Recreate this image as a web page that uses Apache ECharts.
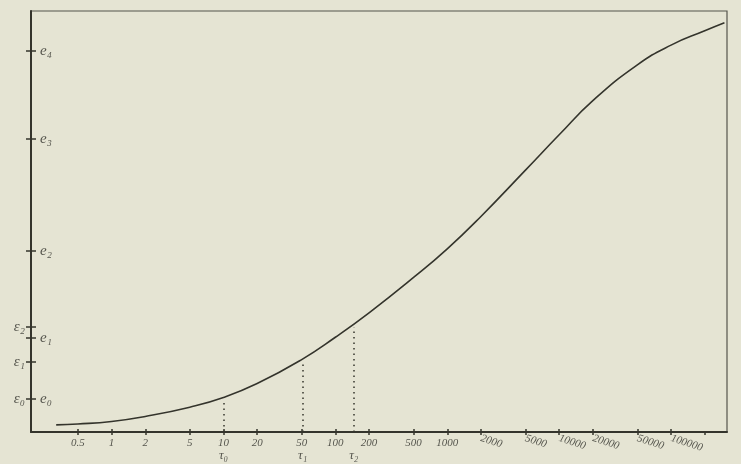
<!DOCTYPE html>
<html>
<head>
<meta charset="utf-8">
<script src="https://cdn.jsdelivr.net/npm/echarts@6/dist/echarts.min.js"></script>
<style>
  html, body { margin: 0; padding: 0; background: #e5e4d3; }
  #chart { width: 741px; height: 464px; }
</style>
</head>
<body>
<div id="chart"></div>
<script>
// curve (x is the raw value, the axis is logarithmic)
const curveX = [0.32, 0.5, 1, 2, 5, 10, 20, 50, 100, 200, 500, 1000, 2000, 5000, 10000, 20000, 50000, 100000, 200000, 300000];
const curveY = [1.7, 1.9, 2.5, 3.7, 5.9, 8.2, 11.5, 17.2, 22.5, 28.3, 36.7, 43.5, 51.2, 62.2, 70.6, 78.7, 87.2, 91.9, 95.3, 97.2];

// x axis ticks
const tickValues = [0.5, 1, 2, 5, 10, 20, 50, 100, 200, 500, 1000, 2000, 5000, 10000, 20000, 50000, 100000, 200000];
const tickLabels = ['0.5', '1', '2', '5', '10', '20', '50', '100', '200', '500', '1000', '2000', '5000', '10000', '20000', '50000', '100000', '200000'];
const slantFrom = 2000; // labels from here on are printed slanting

// marked times and their levels
const tauValues = [10, 51, 146];
const tauLabels = ['τ₀', 'τ₁', 'τ₂'];
const epsValues = [7.8, 16.6, 24.9];
const epsLabels = ['ε₀', 'ε₁', 'ε₂'];

// e levels on the y axis
const eValues = [7.8, 22.3, 43.0, 69.6, 90.5];
const eLabels = ['e₀', 'e₁', 'e₂', 'e₃', 'e₄'];

const lg = v => Math.log10(v);
const pick = (vals, labels) => v => {
  for (let i = 0; i < vals.length; i++) {
    if (Math.abs(vals[i] - v) < 1e-6) return labels[i];
  }
  return '';
};

const ink = '#34342c';
const grey = '#55554d';
const serif = '"Liberation Serif", "DejaVu Serif", serif';

const xAll = tickValues.map(lg);
const xSmall = tickValues.filter(v => v < slantFrom).map(lg);
const xBig = tickValues.filter(v => v >= slantFrom).map(lg);
const xFmt = pick(xAll, tickLabels);
const allLevels = eValues.concat(epsValues);

const baseX = {
  type: 'value',
  min: -0.72,
  max: 5.5,
  position: 'bottom',
  splitLine: { show: false }
};
const baseY = {
  type: 'value',
  min: 0,
  max: 100,
  position: 'left',
  splitLine: { show: false }
};

const chart = echarts.init(document.getElementById('chart'));
chart.setOption({
  backgroundColor: '#e5e4d3',
  animation: false,
  grid: {
    left: 31, right: 14, top: 11, bottom: 32,
    show: true,
    borderColor: '#55554c',
    borderWidth: 1.2
  },
  xAxis: [
    Object.assign({}, baseX, {
      axisLine: { show: true, onZero: false, lineStyle: { color: ink, width: 2 } },
      axisTick: { show: true, length: 3, customValues: xAll, lineStyle: { color: ink, width: 1.5 } },
      axisLabel: {
        customValues: xSmall, formatter: xFmt, margin: 6,
        fontStyle: 'italic', fontFamily: serif, fontSize: 11, color: grey
      }
    }),
    Object.assign({}, baseX, {
      axisLine: { show: false, onZero: false },
      axisTick: { show: true, inside: true, length: 3, customValues: xAll, lineStyle: { color: ink, width: 1.5 } },
      axisLabel: {
        customValues: xBig, formatter: xFmt, margin: 6, rotate: -18,
        fontStyle: 'italic', fontFamily: serif, fontSize: 11, color: grey
      }
    }),
    Object.assign({}, baseX, {
      axisLine: { show: false, onZero: false },
      axisTick: { show: false },
      axisLabel: {
        customValues: tauValues.map(lg), formatter: pick(tauValues.map(lg), tauLabels), margin: 17,
        fontStyle: 'italic', fontFamily: serif, fontSize: 13, color: grey
      }
    })
  ],
  yAxis: [
    Object.assign({}, baseY, {
      axisLine: { show: true, onZero: false, lineStyle: { color: ink, width: 2 } },
      axisTick: { show: true, inside: true, length: 5, customValues: allLevels, lineStyle: { color: ink, width: 1.5 } },
      axisLabel: {
        inside: true, margin: 9, customValues: eValues, formatter: pick(eValues, eLabels),
        fontStyle: 'italic', fontFamily: serif, fontSize: 15, color: grey
      }
    }),
    Object.assign({}, baseY, {
      axisLine: { show: false, onZero: false },
      axisTick: { show: true, length: 5, customValues: allLevels, lineStyle: { color: ink, width: 1.5 } },
      axisLabel: {
        margin: 6, customValues: epsValues, formatter: pick(epsValues, epsLabels),
        fontStyle: 'italic', fontFamily: serif, fontSize: 15, color: grey
      }
    })
  ],
  series: [
    {
      type: 'line',
      smooth: 0.5,
      showSymbol: false,
      data: curveX.map((x, i) => [lg(x), curveY[i]]),
      lineStyle: { color: ink, width: 1.6 },
      markLine: {
        silent: true,
        symbol: 'none',
        label: { show: false },
        lineStyle: { color: ink, type: [1.5, 4], width: 1.5 },
        data: tauValues.map((t, i) => [
          { coord: [lg(t), 0] },
          { coord: [lg(t), epsValues[i]] }
        ])
      }
    }
  ]
});
</script>
</body>
</html>
